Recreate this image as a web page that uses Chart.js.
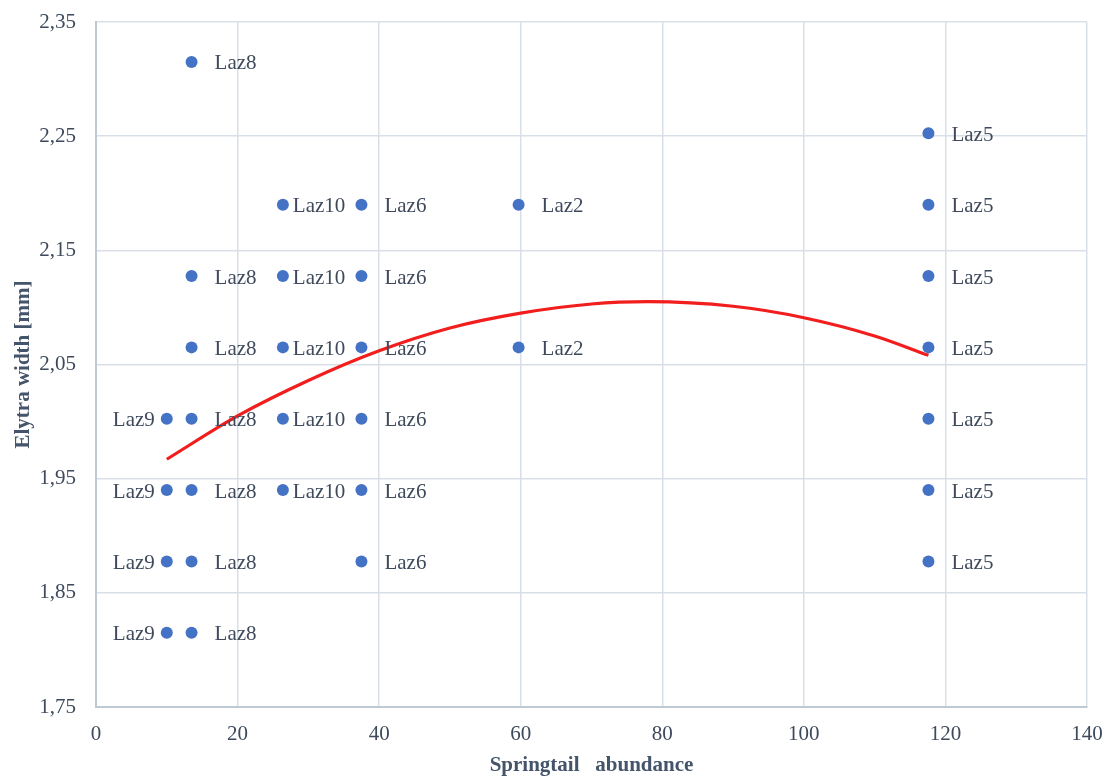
<!DOCTYPE html>
<html>
<head>
<meta charset="utf-8">
<script src="https://cdn.jsdelivr.net/npm/chart.js@4/dist/chart.umd.min.js"></script>
<style>
  html, body { margin: 0; padding: 0; background: #fff; }
  #wrap { width: 1110px; height: 778px; position: relative; }
</style>
</head>
<body>
<div id="wrap"><canvas id="scatterChart"></canvas></div>
<script>
// site names and their springtail abundance
const sites = ["Laz9", "Laz8", "Laz10", "Laz6", "Laz2", "Laz5"];
const siteAbundance = [10, 13.5, 26.4, 37.5, 59.7, 117.6];

// elytra widths measured at each site [mm]
const laz9Widths = [2.0025, 1.94, 1.8775, 1.815];
const laz8Widths = [2.315, 2.1275, 2.065, 2.0025, 1.94, 1.8775, 1.815];
const laz10Widths = [2.19, 2.1275, 2.065, 2.0025, 1.94];
const laz6Widths = [2.19, 2.1275, 2.065, 2.0025, 1.94, 1.8775];
const laz2Widths = [2.19, 2.065];
const laz5Widths = [2.2525, 2.19, 2.1275, 2.065, 2.0025, 1.94, 1.8775];

// polynomial trend line
const trendX = [10, 20, 30, 40, 50, 60, 70, 78, 90, 100, 110, 117.6];
const trendY = [1.967, 2.005, 2.036, 2.062, 2.082, 2.095, 2.103, 2.105, 2.101, 2.091, 2.075, 2.058];

// axis ticks
const xTicks = [0, 20, 40, 60, 80, 100, 120, 140];
const yTicks = [1.75, 1.85, 1.95, 2.05, 2.15, 2.25, 2.35];

const widthsBySite = [laz9Widths, laz8Widths, laz10Widths, laz6Widths, laz2Widths, laz5Widths];

const labelColor = '#3e4a5c';
const serif = "'Liberation Serif', 'Times New Roman', serif";

const pointSets = sites.map((name, i) => ({
  label: name,
  type: 'scatter',
  data: widthsBySite[i].map(w => ({ x: siteAbundance[i], y: w })),
  backgroundColor: '#4472c4',
  borderWidth: 0,
  pointRadius: 6,
  pointHoverRadius: 6,
  order: 1
}));

const trendSet = {
  label: 'trend',
  type: 'line',
  data: trendX.map((x, i) => ({ x: x, y: trendY[i] })),
  borderColor: '#f21d1d',
  borderWidth: 3.2,
  pointRadius: 0,
  fill: false,
  cubicInterpolationMode: 'monotone',
  order: 0
};

// data labels next to each point
const pointLabels = {
  id: 'pointLabels',
  afterDatasetsDraw(chart) {
    const ctx = chart.ctx;
    ctx.save();
    ctx.font = "21px " + serif;
    ctx.fillStyle = labelColor;
    ctx.textBaseline = 'middle';
    chart.data.datasets.forEach((ds, di) => {
      if (ds.type !== 'scatter') return;
      const meta = chart.getDatasetMeta(di);
      meta.data.forEach(pt => {
        if (ds.label === 'Laz9') {
          ctx.textAlign = 'right';
          ctx.fillText(ds.label, pt.x - 12, pt.y + 2);
        } else {
          ctx.textAlign = 'left';
          const off = ds.label === 'Laz10' ? 10 : 23;
          ctx.fillText(ds.label, pt.x + off, pt.y + 2);
        }
      });
    });
    ctx.restore();
  }
};

const ctx = document.getElementById('scatterChart');
new Chart(ctx, {
  type: 'scatter',
  data: { datasets: [trendSet].concat(pointSets) },
  options: {
    responsive: true,
    maintainAspectRatio: false,
    animation: false,
    layout: { padding: { top: 22, right: 23, left: 0, bottom: 0 } },
    plugins: {
      legend: { display: false },
      tooltip: { enabled: false }
    },
    scales: {
      x: {
        type: 'linear',
        min: xTicks[0],
        max: xTicks[xTicks.length - 1],
        afterBuildTicks: axis => { axis.ticks = xTicks.map(v => ({ value: v })); },
        afterFit: axis => {
          axis.height = 71;
          axis.paddingLeft = 0;
          axis.paddingRight = 0;
        },
        grid: { color: '#d9dfe7', lineWidth: 1.5, drawTicks: false },
        border: { color: '#bfc8d3', width: 2 },
        ticks: {
          padding: 15,
          color: labelColor,
          font: { family: serif, size: 21 }
        },
        title: {
          display: true,
          text: 'Springtail   abundance',
          color: '#44546a',
          font: { family: serif, size: 21, weight: 'bold' },
          padding: { top: 0, bottom: 0 }
        }
      },
      y: {
        type: 'linear',
        min: yTicks[0],
        max: yTicks[yTicks.length - 1],
        afterBuildTicks: axis => { axis.ticks = yTicks.map(v => ({ value: v })); },
        afterFit: axis => {
          axis.width = 96;
          axis.paddingTop = 0;
          axis.paddingBottom = 0;
        },
        grid: { color: '#d9dfe7', lineWidth: 1.5, drawTicks: false },
        border: { color: '#bfc8d3', width: 2 },
        ticks: {
          padding: 20,
          color: labelColor,
          font: { family: serif, size: 21 },
          callback: v => v.toFixed(2).replace('.', ',')
        },
        title: {
          display: true,
          text: 'Elytra width [mm]',
          color: '#44546a',
          font: { family: serif, size: 21, weight: 'bold' },
          padding: { top: 11, bottom: 0 }
        }
      }
    }
  },
  plugins: [pointLabels]
});
</script>
</body>
</html>
